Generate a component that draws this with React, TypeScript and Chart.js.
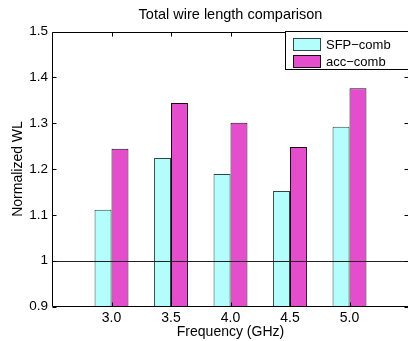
import { useEffect, useRef } from "react";
import { Chart, registerables } from "chart.js";

Chart.register(...registerables);

// ---- data ----
const frequencies = ["3.0", "3.5", "4.0", "4.5", "5.0"];
const sfpComb = [1.111, 1.224, 1.189, 1.152, 1.292];
const accComb = [1.244, 1.344, 1.301, 1.248, 1.376];
const seriesLabels = ["SFP\u2212comb", "acc\u2212comb"];
const seriesColors = ["#b3fdfd", "#e44dcb"];
const seriesBorders = ["#2e4646", "#1e0818"];
const chartTitle = "Total wire length comparison";
const xTitle = "Frequency (GHz)";
const yTitle = "Normalized WL";
const yMin = 0.9;
const yMax = 1.5;
const yStep = 0.1;
const referenceLevel = 1;

const FONT = "'Liberation Sans', Arial, Helvetica, sans-serif";

const framePlugin = {
  id: "matlabFrame",
  afterDatasetsDraw(chart: any) {
    const { ctx, chartArea: a, scales } = chart;
    const x = scales.x;
    const y = scales.y;
    ctx.save();
    ctx.strokeStyle = "#000";
    ctx.lineWidth = 1;
    const L = Math.round(a.left) + 0.5;
    const R = Math.round(a.right) - 0.5;
    const T = Math.round(a.top) + 0.5;
    const B = Math.round(a.bottom) - 0.5;
    const line = (x1: number, y1: number, x2: number, y2: number) => {
      ctx.beginPath();
      ctx.moveTo(x1, y1);
      ctx.lineTo(x2, y2);
      ctx.stroke();
    };
    // reference line
    const yr = Math.round(y.getPixelForValue(referenceLevel)) + 0.5;
    ctx.strokeStyle = "#222";
    line(L, yr, R, yr);
    ctx.strokeStyle = "#000";
    // frame
    line(L, T, R, T);
    line(L, B, R, B);
    line(L, T, L, B);
    line(R, T, R, B);
    // y ticks (inward, both sides)
    y.ticks.forEach((t: any) => {
      const py = Math.round(y.getPixelForValue(t.value)) + 0.5;
      line(L, py, L + 4, py);
      line(R - 4, py, R, py);
    });
    // x ticks (inward, top & bottom)
    frequencies.forEach((_, i) => {
      const px = Math.round(x.getPixelForValue(i + 1)) + 0.5;
      line(px, T, px, T + 4);
      line(px, B - 4, px, B);
    });
    ctx.restore();
  },
  afterDraw(chart: any) {
    const { ctx } = chart;
    ctx.save();
    // legend box
    const bx = 285.5;
    const by = 31.5;
    const bw = 140;
    const bh = 38;
    ctx.fillStyle = "#fff";
    ctx.fillRect(bx, by, bw, bh);
    ctx.strokeStyle = "#000";
    ctx.lineWidth = 1;
    ctx.strokeRect(bx, by, bw, bh);
    ctx.font = `13px ${FONT}`;
    ctx.textBaseline = "middle";
    ctx.textAlign = "left";
    const rows = [44.5, 61.5];
    chart.data.datasets.forEach((ds: any, i: number) => {
      const cy = rows[i];
      ctx.fillStyle = ds.backgroundColor;
      ctx.fillRect(293.5, cy - 6, 27, 12);
      ctx.strokeStyle = ds.borderColor;
      ctx.strokeRect(293.5, cy - 6, 27, 12);
      ctx.fillStyle = "#000";
      ctx.fillText(ds.label, 326, cy + 0.5);
    });
    ctx.restore();
  },
};

export default function App() {
  const canvasRef = useRef<HTMLCanvasElement | null>(null);

  useEffect(() => {
    const canvas = canvasRef.current;
    if (!canvas) return;
    const labels = ["", ...frequencies, ""];
    const pad = (arr: number[]) => [null, ...arr, null];
    const chart = new Chart(canvas, {
      type: "bar",
      data: {
        labels,
        datasets: [
          {
            label: seriesLabels[0],
            data: pad(sfpComb) as any,
            backgroundColor: seriesColors[0],
            borderColor: seriesBorders[0],
            borderWidth: 1,
          },
          {
            label: seriesLabels[1],
            data: pad(accComb) as any,
            backgroundColor: seriesColors[1],
            borderColor: seriesBorders[1],
            borderWidth: 1,
          },
        ],
      },
      options: {
        responsive: false,
        animation: false,
        devicePixelRatio: 1,
        layout: { padding: { left: 0, right: 2, top: 0, bottom: 0 } },
        categoryPercentage: 0.57,
        barPercentage: 1,
        plugins: {
          legend: { display: false },
          tooltip: { enabled: false },
          title: {
            display: true,
            fullSize: false,
            text: chartTitle,
            color: "#000",
            font: { family: FONT, size: 14.5, weight: "normal" },
            padding: { top: 6.3, bottom: 7.8 },
          },
        },
        scales: {
          x: {
            offset: false,
            grid: { display: false, drawTicks: false },
            border: { display: false },
            ticks: {
              color: "#000",
              font: { family: FONT, size: 14 },
              padding: 3,
              autoSkip: false,
              maxRotation: 0,
            },
            title: {
              display: true,
              text: xTitle,
              color: "#000",
              font: { family: FONT, size: 14 },
              padding: { top: 0, bottom: 0 },
            },
            afterFit: (s: any) => {
              s.height = 34.5;
            },
          },
          y: {
            min: yMin,
            max: yMax,
            grid: { display: false, drawTicks: false },
            border: { display: false },
            ticks: {
              stepSize: yStep,
              color: "#000",
              font: { family: FONT, size: 13.5 },
              padding: 4,
              callback: (v: any) => {
                const n = Number(v);
                return Math.abs(n - Math.round(n)) < 1e-9 ? String(Math.round(n)) : n.toFixed(1);
              },
            },
            title: {
              display: true,
              text: yTitle,
              color: "#000",
              font: { family: FONT, size: 14 },
              padding: { top: 10, bottom: 0 },
            },
            afterFit: (s: any) => {
              s.width = 52;
            },
          },
        },
      },
      plugins: [framePlugin],
    });
    return () => chart.destroy();
  }, []);

  return (
    <div
      style={{
        position: "fixed",
        left: 0,
        top: 0,
        width: 408,
        height: 341,
        overflow: "hidden",
        background: "#fff",
      }}
    >
      <canvas ref={canvasRef} width={412} height={341} style={{ width: 412, height: 341, display: "block" }} />
    </div>
  );
}
